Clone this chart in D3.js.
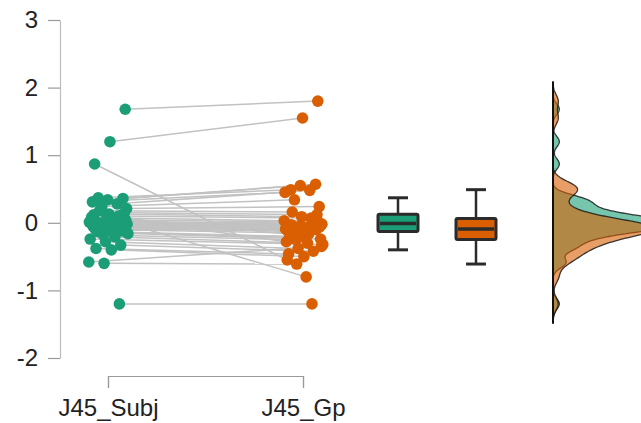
<!DOCTYPE html>
<html>
<head>
<meta charset="utf-8">
<script src="https://cdn.jsdelivr.net/npm/d3@7"></script>
<style>
  body { margin: 0; background: #fff; }
  svg { display: block; font-family: "Liberation Sans", Arial, Helvetica, sans-serif; }
</style>
</head>
<body>
<svg id="chart" width="641" height="423"></svg>
<script>
// Paired measurements: subject-level vs group-level estimate, one entry per participant
const groups = ["J45_Subj", "J45_Gp"];
const subj = [1.68, 1.20, 0.87, -1.20, -0.60, -0.58, 0.05, 0.37, 0.36, 0.34,
              0.31, 0.28, 0.24, 0.21, -0.40, -0.38, -0.33, -0.28, -0.24, -0.21,
              0.18, 0.15, 0.13, 0.12, 0.10, -0.18, -0.16, -0.14, -0.13, -0.12,
              0.09, 0.08, 0.06, -0.10, 0.04, 0.03, -0.09, 0.02, -0.08, 0.01,
              -0.07, 0.00, -0.06, -0.01, -0.05, -0.01, -0.04, -0.02, -0.03, -0.02];
const gp   = [1.80, 1.55, -0.55, -1.20, -0.61, -0.35, -0.80, 0.49, 0.57, 0.55,
              0.45, 0.48, 0.34, 0.24, -0.50, -0.46, -0.42, -0.38, -0.32, -0.30,
              0.16, 0.12, 0.09, -0.28, 0.07, -0.25, -0.24, -0.22, -0.20, 0.05,
              -0.18, 0.03, -0.16, -0.15, 0.01, -0.13, -0.12, -0.01, -0.11, -0.02,
              -0.10, -0.03, -0.10, -0.04, -0.09, -0.05, -0.09, -0.06, -0.08, -0.07];
const yTicks = [-2, -1, 0, 1, 2, 3];
const colors = ["#1b9e77", "#d95f02"];

const series = [subj, gp];
const svg = d3.select("#chart");
const font = "'Liberation Sans', Arial, sans-serif";

const y = d3.scaleLinear().domain([-2, 3]).range([358, 20]);
const x = d3.scalePoint().domain(groups).range([108, 303]);
const xBox = d3.scalePoint().domain(groups).range([398, 476]);
const xDens = d3.scaleLinear().domain([0, 1]).range([553, 615]);

// ---- y axis ----
const yAxis = svg.append("g")
  .attr("transform", "translate(60,0)")
  .call(d3.axisLeft(y).tickValues(yTicks).tickFormat(d => String(d))
    .tickSize(12).tickSizeOuter(0).tickPadding(10));
yAxis.select(".domain").attr("stroke", "#bdbdbd").attr("stroke-width", 1.2);
yAxis.selectAll(".tick line").attr("stroke", "#9a9a9a").attr("stroke-width", 1.2);
yAxis.selectAll(".tick text").attr("font-size", 24).attr("fill", "#222")
  .attr("font-family", font);

// ---- x axis (bracket) ----
const xAxis = svg.append("g")
  .attr("transform", "translate(0,376)")
  .call(d3.axisBottom(x).tickSize(12).tickSizeOuter(12).tickPadding(11));
xAxis.select(".domain").attr("stroke", "#9a9a9a").attr("stroke-width", 1.2);
xAxis.selectAll(".tick line").attr("stroke", "#9a9a9a").attr("stroke-width", 1.2);
xAxis.selectAll(".tick text").attr("font-size", 24).attr("fill", "#222")
  .attr("font-family", font);

// ---- deterministic horizontal spread for the dots ----
function spread(i, seed) {
  const f = (seed + i * 0.6180339887) % 1;
  return (f - 0.5) * 40;
}
const px = (g, i) => x(groups[g]) + spread(i, g === 0 ? 0.93 : 0.87);

// ---- connecting lines ----
svg.append("g").selectAll("line")
  .data(subj.map((v, i) => i))
  .join("line")
  .attr("x1", i => px(0, i)).attr("y1", i => y(subj[i]))
  .attr("x2", i => px(1, i)).attr("y2", i => y(gp[i]))
  .attr("stroke", "#c2c2c2").attr("stroke-width", 1.5);

// ---- dots ----
series.forEach((vals, g) => {
  svg.append("g").selectAll("circle")
    .data(vals)
    .join("circle")
    .attr("cx", (d, i) => px(g, i))
    .attr("cy", d => y(d))
    .attr("r", 5.8)
    .attr("fill", colors[g]);
});

// ---- box plots ----
function boxStats(vals) {
  const s = vals.slice().sort(d3.ascending);
  const q1 = d3.quantile(s, 0.25), med = d3.quantile(s, 0.5), q3 = d3.quantile(s, 0.75);
  const iqr = q3 - q1;
  const lo = d3.min(s.filter(v => v >= q1 - 1.5 * iqr));
  const hi = d3.max(s.filter(v => v <= q3 + 1.5 * iqr));
  return { q1, med, q3, lo, hi };
}
series.forEach((vals, g) => {
  const b = boxStats(vals);
  const cx = xBox(groups[g]);
  const bg = svg.append("g");
  const dark = "#2b2b2b";
  bg.append("line").attr("x1", cx).attr("x2", cx).attr("y1", y(b.hi)).attr("y2", y(b.q3))
    .attr("stroke", dark).attr("stroke-width", 2.5);
  bg.append("line").attr("x1", cx).attr("x2", cx).attr("y1", y(b.q1)).attr("y2", y(b.lo))
    .attr("stroke", dark).attr("stroke-width", 2.5);
  [b.hi, b.lo].forEach(v => bg.append("line")
    .attr("x1", cx - 10).attr("x2", cx + 10).attr("y1", y(v)).attr("y2", y(v))
    .attr("stroke", dark).attr("stroke-width", 3));
  bg.append("rect").attr("x", cx - 20).attr("width", 40)
    .attr("y", y(b.q3)).attr("height", y(b.q1) - y(b.q3))
    .attr("fill", colors[g]).attr("stroke", dark).attr("stroke-width", 3).attr("rx", 1.5);
  bg.append("line").attr("x1", cx - 18).attr("x2", cx + 18).attr("y1", y(b.med)).attr("y2", y(b.med))
    .attr("stroke", dark).attr("stroke-width", 3.5);
});

// ---- kernel density (gaussian, nrd0 bandwidth) ----
function nrd0(vals) {
  const s = vals.slice().sort(d3.ascending);
  const iqr = d3.quantile(s, 0.75) - d3.quantile(s, 0.25);
  const lo = Math.min(d3.deviation(s), iqr / 1.34);
  return 0.9 * lo * Math.pow(s.length, -0.2);
}
function kde(vals) {
  const h = nrd0(vals);
  const lo = d3.min(vals) - 3 * h, hi = d3.max(vals) + 3 * h;
  const n = 512;
  const pts = d3.range(n).map(k => {
    const t = lo + (hi - lo) * k / (n - 1);
    const d = d3.mean(vals, v => Math.exp(-0.5 * ((t - v) / h) ** 2)) / (h * Math.sqrt(2 * Math.PI));
    return [t, d];
  });
  return { pts, lo, hi };
}
const dens = series.map(kde);
const area = d3.area()
  .y(d => y(d[0]))
  .x0(xDens(0))
  .x1(d => xDens(d[1]));
dens.forEach((dd, g) => {
  svg.append("path")
    .datum(dd.pts)
    .attr("d", area)
    .attr("fill", colors[g]).attr("fill-opacity", 0.6)
    .attr("stroke", "#1a1a1a").attr("stroke-opacity", 0.85).attr("stroke-width", 1.3);
});
svg.append("line")
  .attr("x1", xDens(0)).attr("x2", xDens(0))
  .attr("y1", y(d3.max(dens, d => d.hi))).attr("y2", y(d3.min(dens, d => d.lo)))
  .attr("stroke", "#111").attr("stroke-width", 2);
</script>
</body>
</html>
